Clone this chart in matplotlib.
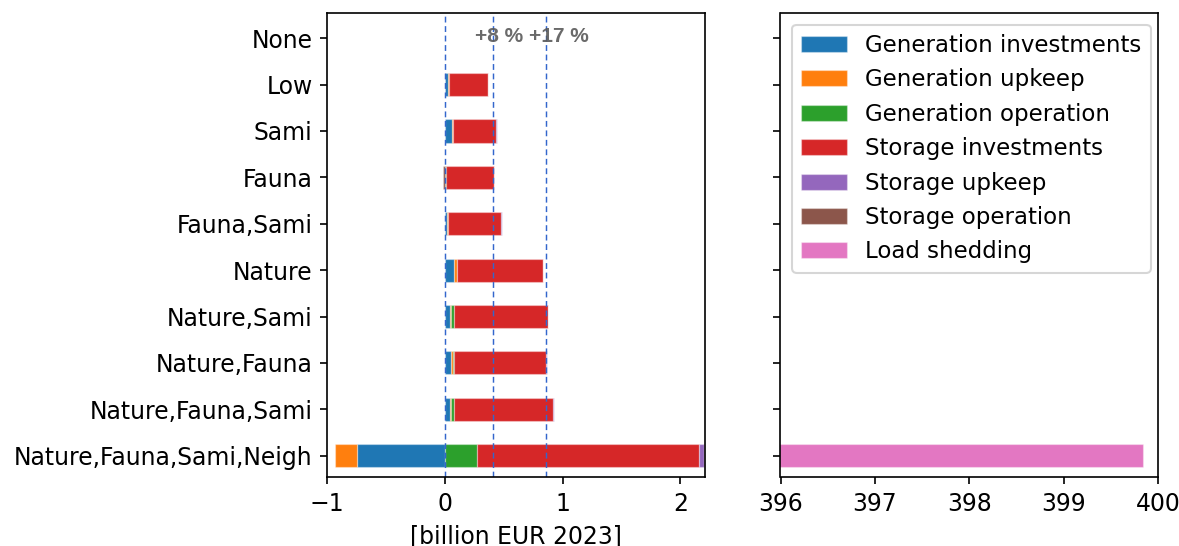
import numpy as np
import matplotlib
matplotlib.use("Agg")
import matplotlib.pyplot as plt

categories = ["None", "Low", "Sami", "Fauna", "Fauna,Sami", "Nature", "Nature,Sami",
              "Nature,Fauna", "Nature,Fauna,Sami", "Nature,Fauna,Sami,Neigh"]
series_names = ["Generation investments", "Generation upkeep", "Generation operation",
                "Storage investments", "Storage upkeep", "Storage operation", "Load shedding"]
gen_invest = [0, 0.03, 0.06, 0.002, 0.02, 0.077, 0.04, 0.055, 0.04, -0.746]
gen_upkeep = [0, 0.004, 0.01, 0.0, 0.003, 0.025, 0.011, 0.01, 0.01, -0.186]
gen_oper = [0, 0.0, 0.0, 0.003, 0.0, 0.003, 0.023, 0.01, 0.03, 0.271]
stor_invest = [0, 0.33, 0.365, 0.41, 0.455, 0.725, 0.80, 0.785, 0.84, 1.89]
stor_upkeep = [0, 0.002, 0.005, 0.003, 0.003, 0.003, 0.005, 0.005, 0.005, 0.04]
stor_oper = [0, 0.0, 0.0, -0.015, 0.0, 0.0, 0.0, 0.0, 0.0, 0.0]
load_shed = [0, 0, 0, 0, 0, 0, 0, 0, 0, 397.64]
ref_lines = [0.0, 0.407, 0.856]
ref_labels = ["+8 %", "+17 %"]
ref_label_x = [0.456, 0.970]

series = [gen_invest, gen_upkeep, gen_oper, stor_invest, stor_upkeep, stor_oper, load_shed]
colors = ["#1f77b4", "#ff7f0e", "#2ca02c", "#d62728", "#9467bd", "#8c564b", "#e377c2"]

FS = 11.3
fig = plt.figure(figsize=(1179 / 150, 546 / 150), dpi=150)
ax1 = fig.add_axes([327.3 / 1179, 0.1255, (705 - 327.3) / 1179, 0.976 - 0.1255])
ax2 = fig.add_axes([780.5 / 1179, 0.1255, (1158 - 780.5) / 1179, 0.976 - 0.1255])

y = np.arange(len(categories))
for ax in (ax1, ax2):
    pos = np.zeros(len(categories))
    neg = np.zeros(len(categories))
    for name, vals, c in zip(series_names, series, colors):
        v = np.array(vals, dtype=float)
        left = np.where(v >= 0, pos, neg)
        ax.barh(y, v, left=left, height=0.5, color=c, label=name,
                edgecolor=(1, 1, 1, 0.35), linewidth=0.6)
        pos = pos + np.where(v >= 0, v, 0)
        neg = neg + np.where(v < 0, v, 0)
    ax.set_ylim(9.47, -0.54)
    ax.set_yticks(y)

ax1.set_yticklabels(categories, fontsize=FS)
ax2.set_yticklabels([])
ax1.set_xlim(-1, 2.21)
ax1.set_xticks([-1, 0, 1, 2])
ax2.set_xlim(396, 400)
ax2.set_xticks([396, 397, 398, 399, 400])
for ax in (ax1, ax2):
    ax.tick_params(labelsize=FS)

for xv in ref_lines:
    ax1.axvline(xv, color="#3366cc", linestyle=(0, (4, 2.5)), linewidth=0.7)
for xt, lab in zip(ref_label_x, ref_labels):
    ax1.text(xt, 0.08, lab, ha="center", va="baseline", fontsize=10,
             family=["Liberation Sans", "DejaVu Sans"], fontweight="bold",
             color="#5a5a5a", alpha=0.9)

ax1.set_xlabel("[billion EUR 2023]", fontsize=FS)
ax2.legend(loc="upper left", fontsize=11)

fig.savefig("out.png", dpi=150)
